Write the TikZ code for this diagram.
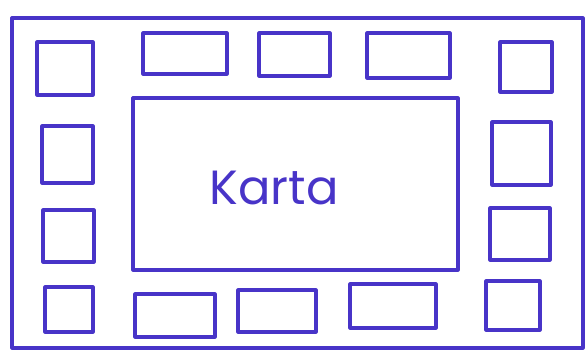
\documentclass[tikz,border=0pt]{standalone}
\usepackage{fontspec}
\setsansfont{Poppins}
\usepackage{tikz}
\usetikzlibrary{positioning}
\definecolor{pencolor}{RGB}{72,52,200}

\begin{document}
\begin{tikzpicture}[
        x=1pt, y=-1pt,
        sheet/.style={draw=pencolor, line width=3.2pt, line join=round, minimum width=571pt, minimum height=330pt, inner sep=0pt},
        mapbox/.style={draw=pencolor, line width=3.2pt, line join=round, minimum width=325pt, minimum height=172pt, inner sep=0pt},
        maptext/.style={font=\sffamily\fontsize{48}{48}\selectfont, text=pencolor, anchor=base},
        slot/.style={draw=pencolor, line width=3.1pt, line join=round, inner sep=0pt}
    ]
        \useasboundingbox (0,0) rectangle (586,355);
        \node[sheet] (frame) at (297.5,183) {};
        \node[mapbox] (map) at (295.5,184) {};
        \node[maptext] (maplabel) at (274,205) {Karta};
        % small boxes round the map: x1,y1,x2,y2,name
        \foreach \xa/\ya/\xb/\yb/\nm in {
            37/42/93/95/s1, 143/33/227/74/s2, 259/33/330/76/s3, 367/33/450/78/s4, 500/42/552/92/s5,
            42/126/93/183/s6, 492/122/551/185/s7,
            43/210/94/262/s8, 490/208/550/260/s9,
            45/287/93/332/s10, 135/294/215/337/s11, 238/290/316/332/s12, 350/284/436/328/s13, 486/281/540/330/s14}
        {
            \node[slot, minimum width={\xb-\xa}, minimum height={\yb-\ya}] (\nm) at ({(\xa+\xb)/2},{(\ya+\yb)/2}) {};
        }
    \end{tikzpicture}
\end{document}
